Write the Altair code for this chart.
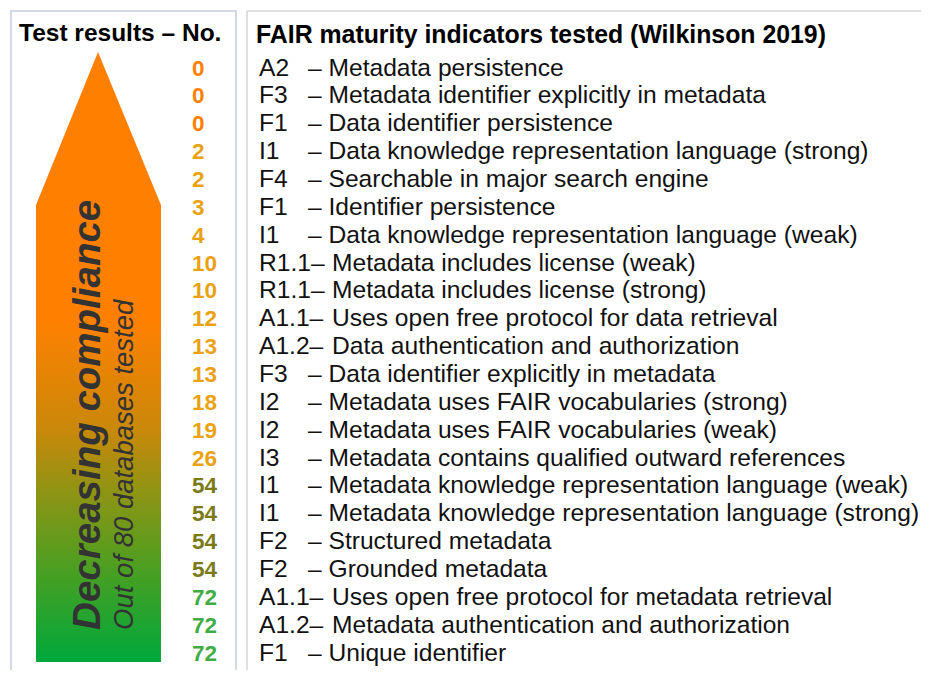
import altair as alt
import pandas as pd

# ---- data ----
codes = ["A2", "F3", "F1", "I1", "F4", "F1", "I1", "R1.1", "R1.1", "A1.1", "A1.2",
         "F3", "I2", "I2", "I3", "I1", "I1", "F2", "F2", "A1.1", "A1.2", "F1"]
descs = [
    "Metadata persistence",
    "Metadata identifier explicitly in metadata",
    "Data identifier persistence",
    "Data knowledge representation language (strong)",
    "Searchable in major search engine",
    "Identifier persistence",
    "Data knowledge representation language (weak)",
    "Metadata includes license (weak)",
    "Metadata includes license (strong)",
    "Uses open free protocol for data retrieval",
    "Data authentication and authorization",
    "Data identifier explicitly in metadata",
    "Metadata uses FAIR vocabularies (strong)",
    "Metadata uses FAIR vocabularies (weak)",
    "Metadata contains qualified outward references",
    "Metadata knowledge representation language (weak)",
    "Metadata knowledge representation language (strong)",
    "Structured metadata",
    "Grounded metadata",
    "Uses open free protocol for metadata retrieval",
    "Metadata authentication and authorization",
    "Unique identifier",
]
counts = [0, 0, 0, 2, 2, 3, 4, 10, 10, 12, 13, 13, 18, 19, 26, 54, 54, 54, 54, 72, 72, 72]

tier_names = ["none", "low", "mid", "high"]
tier_colors = ["#ff8000", "#e9a214", "#7c7a16", "#3fac45"]

left_title = "Test results – No."
right_title = "FAIR maturity indicators tested (Wilkinson 2019)"
arrow_main = "Decreasing compliance"
arrow_sub = "Out of 80 databases tested"

FONT = "Liberation Sans"
FS = 24.6


def tier(c):
    if c == 0:
        return "none"
    if c < 50:
        return "low"
    if c < 70:
        return "mid"
    return "high"


rows = pd.DataFrame({
    "row": list(range(len(codes))),
    "code": [c + "–" if len(c) > 2 else c for c in codes],
    "dash": ["– " + d if len(c) <= 2 else "" for c, d in zip(codes, descs)],
    "desc_long": [d if len(c) > 2 else "" for c, d in zip(codes, descs)],
    "count": [str(c) for c in counts],
    "tier": [tier(c) for c in counts],
})

# layout scales: x in page units, y in row units
XS = alt.Scale(domain=[8, 921], nice=False, zero=False)
YS = alt.Scale(domain=[-2.1716, 21.59], nice=False, zero=False, reverse=True)


def xq(f):
    return alt.X(f, type="quantitative", scale=XS, axis=None)


def yq(f):
    return alt.Y(f, type="quantitative", scale=YS, axis=None)


# arrow shape (decoration)
arrow_df = pd.DataFrame({"y": [-0.59, 4.9, 21.3], "xl": [98, 36, 36], "xr": [98, 161, 161]})
grad = {
    "gradient": "linear",
    "x1": 0, "x2": 0, "y1": 0, "y2": 1,
    "stops": [
        {"offset": 0.0, "color": "#ff8000"},
        {"offset": 0.44, "color": "#ff8000"},
        {"offset": 0.62, "color": "#c9880a"},
        {"offset": 0.72, "color": "#8f9414"},
        {"offset": 0.85, "color": "#4a9f22"},
        {"offset": 1.0, "color": "#00a83c"},
    ],
}
arrow = alt.Chart(arrow_df).mark_area(orient="horizontal", fill=grad).encode(
    y=yq("y"), x=xq("xl"), x2=alt.X2("xr"),
)

# boxes
box_df = pd.DataFrame({"x": [11], "x2": [236], "y": [-2.064], "y2": [22.5]})
box_left = alt.Chart(box_df).mark_rect(fillOpacity=0, stroke="#c5cde2", strokeWidth=1.5).encode(
    x=xq("x"), x2=alt.X2("x2"), y=yq("y"), y2=alt.Y2("y2")
)
top_df = pd.DataFrame({"x": [247], "x2": [940], "y": [-2.064]})
rule_top = alt.Chart(top_df).mark_rule(color="#d6d6d6", strokeWidth=1.5).encode(
    x=xq("x"), x2=alt.X2("x2"), y=yq("y")
)
side_df = pd.DataFrame({"x": [247], "y": [-2.064], "y2": [22.5]})
rule_left = alt.Chart(side_df).mark_rule(color="#d6d6d6", strokeWidth=1.5).encode(
    x=xq("x"), y=yq("y"), y2=alt.Y2("y2")
)

# titles
lt_df = pd.DataFrame({"x": [19], "y": [-1.0], "t": [left_title]})
t_left = alt.Chart(lt_df).mark_text(
    align="left", baseline="alphabetic", font=FONT,
    fontSize=24.5, fontWeight="bold", color="#000000"
).encode(x=xq("x"), y=yq("y"), text="t:N")
rt_df = pd.DataFrame({"x": [256], "y": [-0.93], "t": [right_title]})
t_right = alt.Chart(rt_df).mark_text(
    align="left", baseline="alphabetic", font=FONT,
    fontSize=24.85, fontWeight="bold", color="#000000"
).encode(x=xq("x"), y=yq("y"), text="t:N")

# arrow texts
main_df = pd.DataFrame({"x": [100], "y": [20.15], "t": [arrow_main]})
a_main = alt.Chart(main_df).mark_text(
    angle=270, align="left", baseline="alphabetic", font=FONT,
    fontSize=38.5, fontWeight="bold", fontStyle="italic", color="#333333"
).encode(x=xq("x"), y=yq("y"), text="t:N")
sub_df = pd.DataFrame({"x": [133], "y": [20.15], "t": [arrow_sub]})
a_sub = alt.Chart(sub_df).mark_text(
    angle=270, align="left", baseline="alphabetic", font=FONT,
    fontSize=27.5, fontStyle="italic", color="#333333"
).encode(x=xq("x"), y=yq("y"), text="t:N")

rows["xn"] = 192
rows["xc"] = 259
rows["xd"] = 308
rows["xl"] = 332

base = alt.Chart(rows)
nums = base.mark_text(align="left", baseline="middle", font=FONT, fontSize=22.5, fontWeight="bold").encode(
    x=xq("xn"), y=yq("row"), text="count:N",
    color=alt.Color("tier:N", scale=alt.Scale(domain=tier_names, range=tier_colors), legend=None),
)
code_txt = base.mark_text(align="left", baseline="middle", font=FONT, fontSize=FS, color="#111111").encode(
    x=xq("xc"), y=yq("row"), text="code:N"
)
dash_txt = base.mark_text(align="left", baseline="middle", font=FONT, fontSize=FS, color="#111111").encode(
    x=xq("xd"), y=yq("row"), text="dash:N"
)
long_txt = base.mark_text(align="left", baseline="middle", font=FONT, fontSize=FS, color="#111111").encode(
    x=xq("xl"), y=yq("row"), text="desc_long:N"
)

chart = alt.layer(
    arrow, box_left, rule_top, rule_left, t_left, t_right, a_main, a_sub,
    nums, code_txt, dash_txt, long_txt
).properties(
    width=913, height=662, autosize=alt.AutoSizeParams(type="none"), padding=0
).configure_view(stroke=None)

chart.save("out.html", embed_options={"renderer": "svg", "actions": False})
